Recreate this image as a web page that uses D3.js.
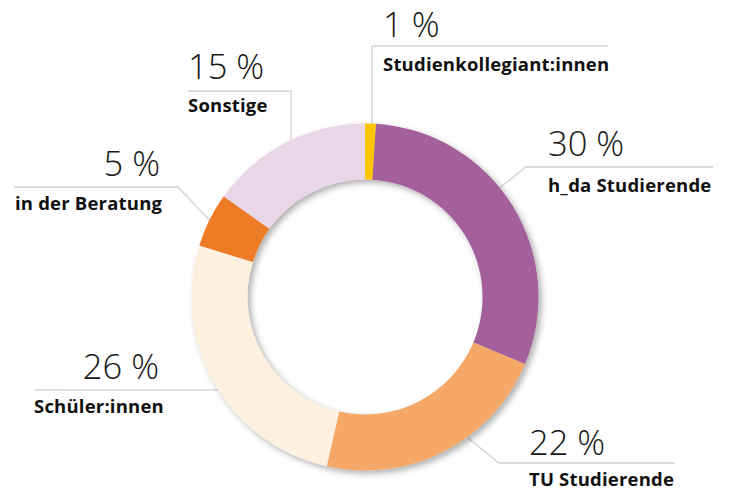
<!DOCTYPE html>
<html>
<head>
<meta charset="utf-8">
<script src="https://cdn.jsdelivr.net/npm/d3@7"></script>
<style>
  html, body { margin: 0; padding: 0; background: #fff; }
  svg { display: block; }
  .pct { font-family: "Open Sans", "Noto Sans", sans-serif; font-weight: 300; font-size: 34.5px; fill: #161616; }
  .lbl { font-family: "Open Sans", "Noto Sans", sans-serif; font-weight: 700; font-size: 18.5px; letter-spacing: 0.2px; fill: #111; }
</style>
</head>
<body>
<svg id="chart" width="729" height="491"></svg>
<script>
// ---- data ----
const categories = ["Studienkollegiant:innen", "h_da Studierende", "TU Studierende", "Schüler:innen", "in der Beratung", "Sonstige"];
const values = [1, 30, 22, 26, 5, 15];
const percentLabels = values.map(v => v + " %");
const colors = ["#FDC400", "#A3619A", "#F5A867", "#FEF0DF", "#EE7C26", "#E9D7E8"];

// ---- layout (positions only) ----
const cx = 365, cy = 297, outerR = 173.5, innerR = 117.5;
const labelLayout = [
  { pctX: 383, pctAnchor: "start", lblX: 383, pctY: 37,  lblY: 71,  pts: [[608, 46], [372, 46]],  angle: 2.3 },
  { pctX: 548, pctAnchor: "start", lblX: 548, pctY: 156, lblY: 192, pts: [[713, 167], [526, 167]], angle: 51 },
  { pctX: 529, pctAnchor: "start", lblX: 529, pctY: 455, lblY: 486, pts: [[675, 463], [499, 463]], angle: 144 },
  { pctX: 159, pctAnchor: "end",   lblX: 34,  pctY: 379, lblY: 413, pts: [[35, 390]],              angle: 237.6 },
  { pctX: 160, pctAnchor: "end",   lblX: 15,  pctY: 176, lblY: 210, pts: [[14, 187], [178, 187]],  angle: 296.3 },
  { pctX: 188, pctAnchor: "start", lblX: 188, pctY: 79,  lblY: 112, pts: [[188, 91], [291, 91]],   angle: 334.75 }
];

const svg = d3.select("#chart");

const defs = svg.append("defs");
const filter = defs.append("filter").attr("id", "shadow")
  .attr("x", "-20%").attr("y", "-20%").attr("width", "140%").attr("height", "140%");
filter.append("feDropShadow")
  .attr("dx", 3).attr("dy", 3).attr("stdDeviation", 3)
  .attr("flood-color", "#000").attr("flood-opacity", 0.32);

const pie = d3.pie().value(d => d).sort(null);
const arcs = pie(values);
const arc = d3.arc().innerRadius(innerR).outerRadius(outerR);

// leader lines (beneath the ring)
const lineGen = d3.line();
const lines = svg.append("g");
labelLayout.forEach((L, i) => {
  const a = L.angle * Math.PI / 180;
  const contact = [cx + outerR * Math.sin(a), cy - outerR * Math.cos(a)];
  lines.append("path")
    .attr("d", lineGen(L.pts.concat([contact])))
    .attr("fill", "none")
    .attr("stroke", "#D2D2D2")
    .attr("stroke-width", 1.3);
});

const ring = svg.append("g")
  .attr("transform", `translate(${cx},${cy})`)
  .attr("filter", "url(#shadow)");
ring.selectAll("path")
  .data(arcs)
  .join("path")
  .attr("d", arc)
  .attr("fill", (d, i) => colors[i]);

// texts
const texts = svg.append("g");
labelLayout.forEach((L, i) => {
  texts.append("text")
    .attr("class", "pct")
    .attr("x", L.pctX).attr("y", L.pctY)
    .attr("text-anchor", L.pctAnchor)
    .text(percentLabels[i]);
  texts.append("text")
    .attr("class", "lbl")
    .attr("x", L.lblX).attr("y", L.lblY)
    .text(categories[i]);
});
</script>
</body>
</html>
